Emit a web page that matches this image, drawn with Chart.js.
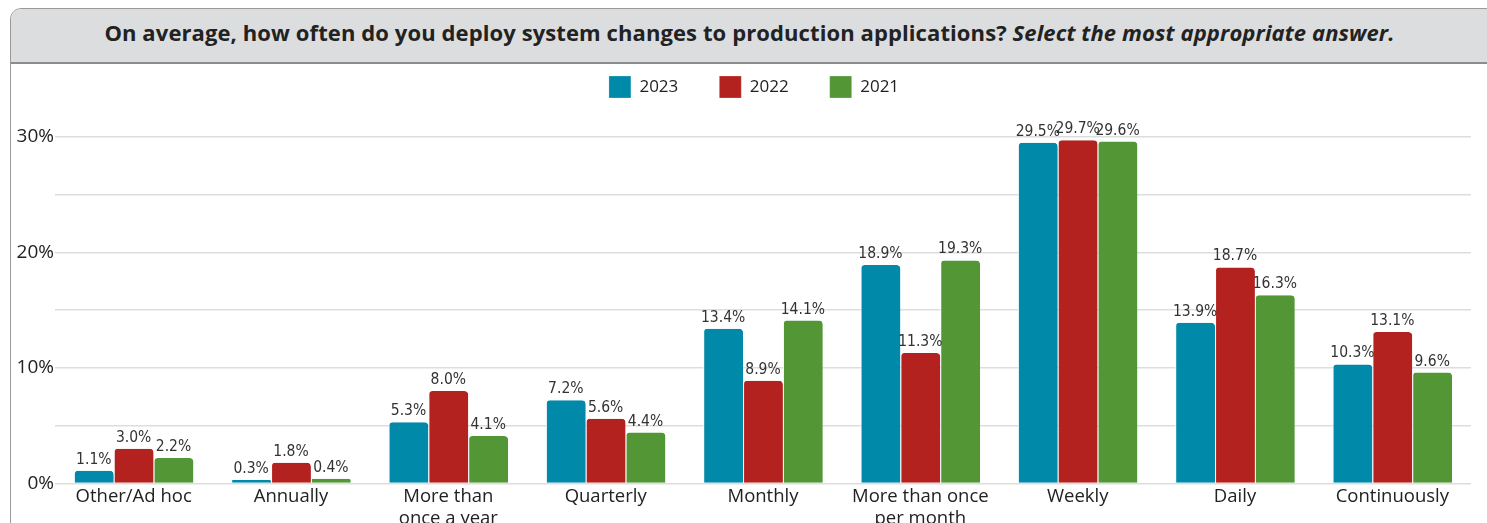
<!DOCTYPE html>
<html>
<head>
<meta charset="utf-8">
<script src="https://cdn.jsdelivr.net/npm/chart.js@4/dist/chart.umd.min.js"></script>
<style>
  html, body { margin: 0; padding: 0; width: 1487px; height: 523px; overflow: hidden; background: #fff; }
  #card { position: absolute; left: 10px; top: 8px; width: 1500px; height: 560px; border: 1.5px solid #9a9a9a; border-radius: 11px 0 0 0; box-sizing: border-box; overflow: hidden; }
  #head { height: 55px; background: #dcdddf; border-bottom: 2px solid #8c8c8c; box-sizing: border-box; font-family: "Open Sans", sans-serif; font-weight: bold; font-size: 22px; color: #222; line-height: 47px; width: 1477px; text-align: center; letter-spacing: 0.1px; }
  #head i { font-weight: bold; }
  #chart { position: absolute; left: 9px; top: 35px; }
</style>
</head>
<body>
<div id="card"><div id="head">On average, how often do you deploy system changes to production applications? <i>Select the most appropriate answer.</i></div></div>
<canvas id="chart" width="1478" height="497"></canvas>
<script>
var categories = ["Other/Ad hoc", "Annually", ["More than", "once a year"], "Quarterly", "Monthly",
  ["More than once", "per month"], "Weekly", "Daily", "Continuously"];
var years = ["2023", "2022", "2021"];
var values2023 = [1.1, 0.3, 5.3, 7.2, 13.4, 18.9, 29.5, 13.9, 10.3];
var values2022 = [3.0, 1.8, 8.0, 5.6, 8.9, 11.3, 29.7, 18.7, 13.1];
var values2021 = [2.2, 0.4, 4.1, 4.4, 14.1, 19.3, 29.6, 16.3, 9.6];
var yTicks = [0, 5, 10, 15, 20, 25, 30];

var colors = ["#0089a8", "#b3221e", "#529636"];
var narrow = '"Liberation Sans Narrow", "DejaVu Sans Condensed", sans-serif';
var sans = '"Open Sans", sans-serif';

// value labels above every bar
var barLabels = {
  id: 'barLabels',
  afterDatasetsDraw: function(chart) {
    var ctx = chart.ctx;
    ctx.save();
    ctx.font = '15.5px ' + narrow;
    ctx.fillStyle = '#333';
    ctx.textAlign = 'center';
    ctx.textBaseline = 'alphabetic';
    chart.data.datasets.forEach(function(ds, i) {
      chart.getDatasetMeta(i).data.forEach(function(bar, j) {
        ctx.fillText(ds.data[j].toFixed(1) + '%', bar.x, bar.y - 7);
      });
    });
    ctx.restore();
  }
};

// nudge the legend a little to the right, as in the original
var legendShift = {
  id: 'legendShift',
  afterLayout: function(chart) {
    if (chart.legend) { chart.legend.left += 14; chart.legend.right += 14; }
  }
};

function makeSet(i, data) {
  return {
    label: years[i],
    data: data,
    backgroundColor: colors[i],
    borderColor: '#ffffff',
    borderWidth: {top: 0, left: 1, right: 0, bottom: 0},
    borderRadius: {topLeft: 4, topRight: 4},
    borderSkipped: 'bottom'
  };
}

var ctx = document.getElementById('chart').getContext('2d');
var myChart = new Chart(ctx, {
  type: 'bar',
  data: {
    labels: categories,
    datasets: [makeSet(0, values2023), makeSet(1, values2022), makeSet(2, values2021)]
  },
  options: {
    responsive: false,
    animation: false,
    layout: { padding: { top: 0, right: 16, left: 0, bottom: 0 } },
    datasets: { bar: { categoryPercentage: 0.76, barPercentage: 1.0 } },
    plugins: {
      legend: {
        position: 'top',
        labels: {
          boxWidth: 22, boxHeight: 22, padding: 41,
          color: '#222',
          font: { family: sans, size: 17 }
        }
      },
      tooltip: { enabled: false }
    },
    scales: {
      x: {
        grid: { display: false, drawTicks: false },
        border: { display: false },
        ticks: { color: '#222', font: { family: sans, size: 18.5, lineHeight: 1.15 }, maxRotation: 0, autoSkip: false, padding: 3 }
      },
      y: {
        min: 0, max: 32.5,
        afterBuildTicks: function(scale) {
          scale.ticks = yTicks.map(function(v) { return {value: v}; });
        },
        afterFit: function(scale) { scale.width = 46; },
        grid: { color: '#dddddd', lineWidth: 1.5, drawTicks: false },
        border: { display: false },
        ticks: {
          color: '#222', padding: 1,
          font: { family: sans, size: 19 },
          callback: function(v) { return v % 10 === 0 ? v + '%' : ''; }
        }
      }
    }
  },
  plugins: [barLabels, legendShift]
});
</script>
</body>
</html>
